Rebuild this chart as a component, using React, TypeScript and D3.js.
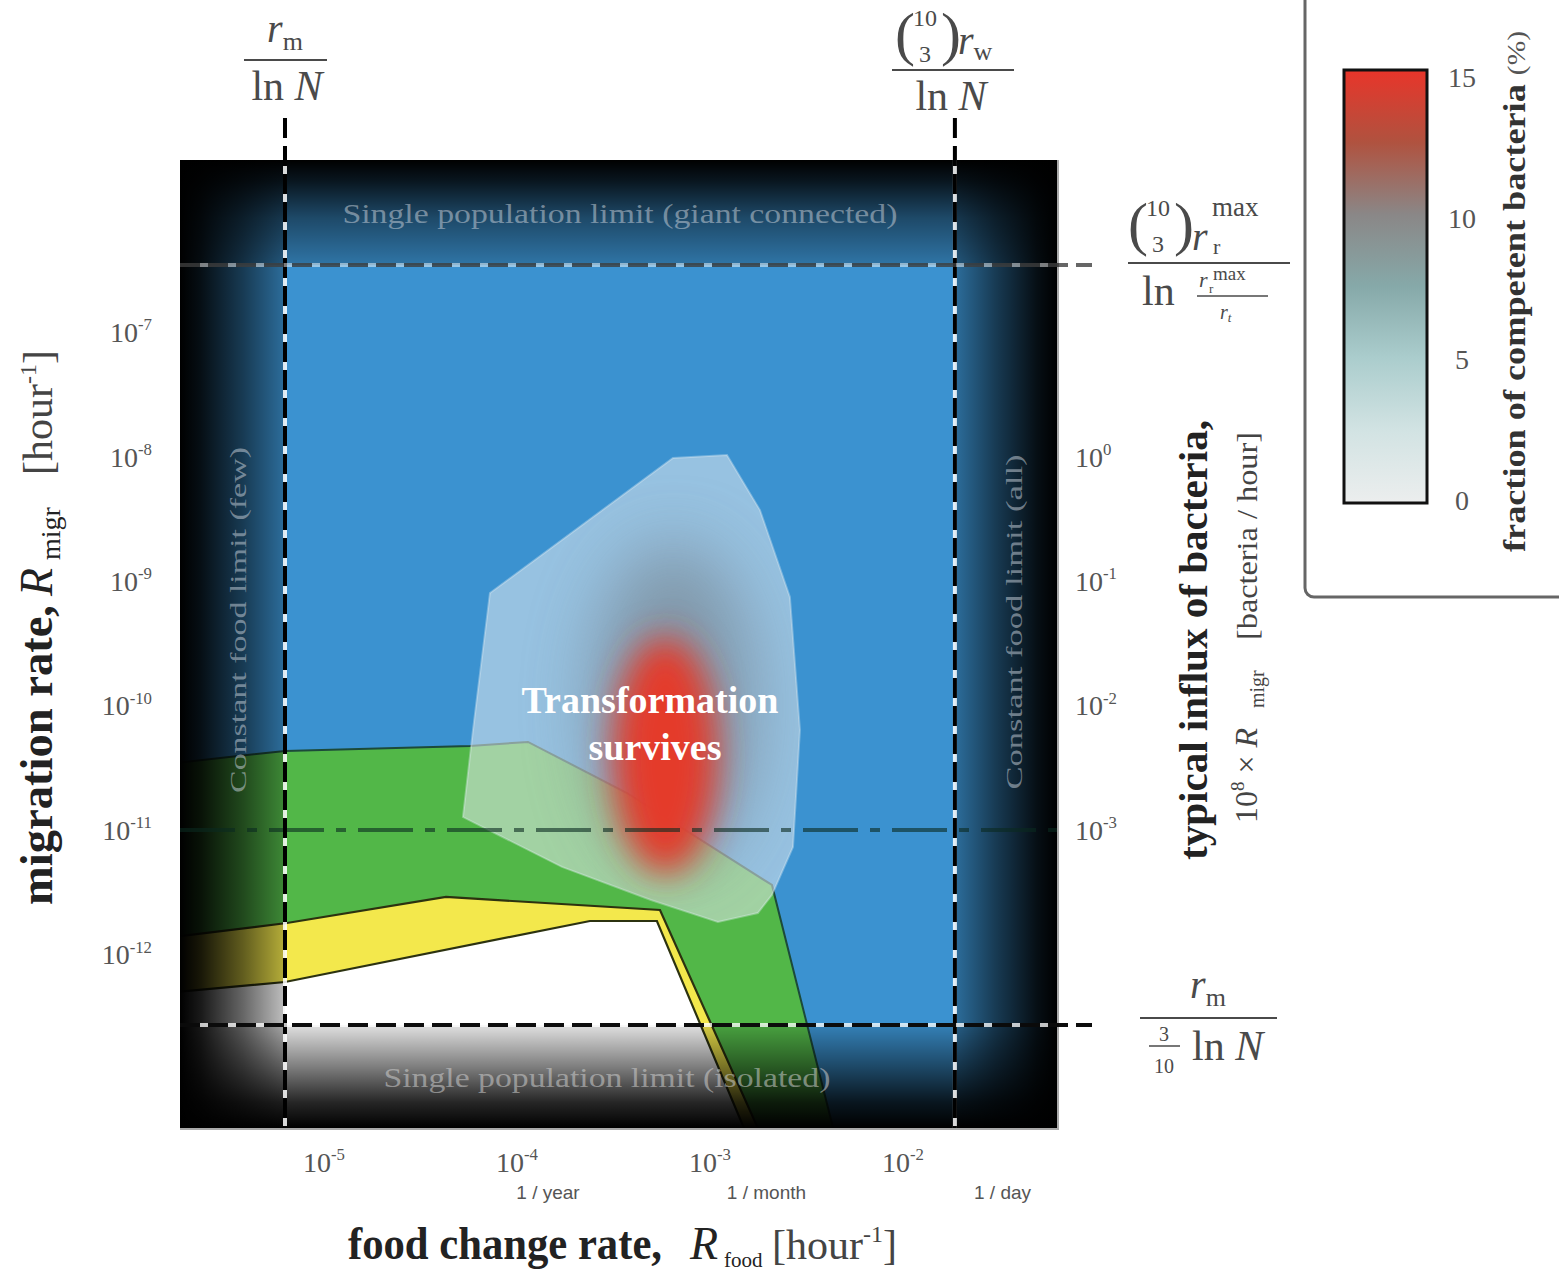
import React from 'react';
import * as d3 from 'd3';

// axis extents, log10 of the rates [hour^-1]
const foodRange = [-5.725, -1.181];
const migrRange = [-13.394, -5.618];
const influxShift = 8; // influx = 10^8 x R_migr

const foodTicks = [-5, -4, -3, -2];
const migrTicks = [-7, -8, -9, -10, -11, -12];
const influxTicks = [0, -1, -2, -3];
const periodNames = ['1 / year', '1 / month', '1 / day'];
const periodRates = [1 / 8760, 1 / 720, 1 / 24];

// regime boundaries as [log10 R_food, log10 R_migr]
const blueGreenEdge = [
  [-5.8, -10.47], [-5.181, -10.365], [-4.223, -10.325], [-3.922, -10.293],
  [-3.409, -10.703], [-2.658, -11.442], [-2.332, -13.45],
];
const greenYellowEdge = [
  [-5.8, -11.867], [-5.171, -11.747], [-4.347, -11.538], [-3.238, -11.643], [-2.715, -13.45],
];
const yellowWhiteEdge = [
  [-5.8, -12.309], [-5.181, -12.221], [-3.601, -11.731], [-3.254, -11.731], [-2.788, -13.45],
];

// where transformation survives
const survivalRegion = [
  [-3.171, -8.012], [-2.891, -7.988], [-2.72, -8.43], [-2.565, -9.129], [-2.513, -10.197],
  [-2.549, -11.137], [-2.658, -11.522], [-2.731, -11.667], [-2.938, -11.739], [-3.285, -11.562],
  [-3.746, -11.297], [-4.259, -10.896], [-4.207, -10.197], [-4.119, -9.096],
];
const competentHalo = { food: -3.17, migr: -10.0, spreadFood: 0.42, spreadMigr: 1.3 };
const competentPeak = { food: -3.21, migr: -10.4, spreadFood: 0.27, spreadMigr: 0.95 };

// limits (dashed) and the reference influx line
const rmLimit = -5.181;
const rwLimit = -1.71;
const giantLimit = -6.462;
const isolatedLimit = -12.566;
const influxRef = -11;

// colour bar, fraction of competent bacteria (%)
const competenceStops = [0, 2.5, 5, 7.5, 10, 12.5, 15];
const competenceColors = ['#eceeee', '#d2e3e3', '#abcdcd', '#86a9a9', '#8a8787', '#b0523f', '#e8352a'];
const competenceTicks = [0, 5, 10, 15];

const W = 1559;
const H = 1271;
const M = { left: 180, right: 1057, top: 160, bottom: 1128 };
const serif = "'Liberation Serif', 'DejaVu Serif', serif";
const narrow = "'Liberation Sans Narrow', 'Liberation Sans', Arial, sans-serif";
const ink = '#4a4a4a';

function Binom({ x, y }) {
  return (
    <g fill={ink} fontFamily={serif}>
      <text x={x} y={y} fontSize={60}>(</text>
      <text x={x + 30} y={y - 28} fontSize={24} textAnchor="middle">10</text>
      <text x={x + 30} y={y + 8} fontSize={24} textAnchor="middle">3</text>
      <text x={x + 46} y={y} fontSize={60}>)</text>
    </g>
  );
}

function Pow({ x, y, exp, size, anchor }) {
  return (
    <text x={x} y={y} fontSize={size} fill="#555" fontFamily={serif} textAnchor={anchor}>
      10<tspan fontSize={size * 0.6} dy={-size * 0.42}>{exp}</tspan>
    </text>
  );
}

const vignette = (id, x1, y1, x2, y2, stops) => (
  <linearGradient id={id} x1={x1} y1={y1} x2={x2} y2={y2}>
    {stops.map(([o, a], i) => <stop key={i} offset={o} stopColor="#000" stopOpacity={a} />)}
  </linearGradient>
);

export default function App() {
  const x = d3.scaleLog().domain(foodRange.map(e => 10 ** e)).range([M.left, M.right]);
  const y = d3.scaleLog().domain(migrRange.map(e => 10 ** e)).range([M.bottom, M.top]);
  const yInflux = d3.scaleLog().domain(migrRange.map(e => 10 ** (e + influxShift))).range([M.bottom, M.top]);
  const fx = e => x(10 ** e);
  const fy = e => y(10 ** e);
  const edge = d3.line().x(d => fx(d[0])).y(d => fy(d[1]));
  const corner = [foodRange[0] - 0.2, migrRange[0] - 0.2];
  const region = pts => edge([...pts, corner]) + 'Z';
  const blob = edge(survivalRegion) + 'Z';

  const xRm = fx(rmLimit), xRw = fx(rwLimit), yGiant = fy(giantLimit), yIso = fy(isolatedLimit);
  const blobs = [competentHalo, competentPeak].map(b => ({
    cx: fx(b.food), cy: fy(b.migr),
    rx: fx(b.food + b.spreadFood) - fx(b.food),
    ry: fy(b.migr - b.spreadMigr) - fy(b.migr),
  }));

  const cb = d3.scaleLinear().domain([0, 15]).range([500, 77]);
  const cbTop = 70, cbBottom = 503;
  const periodNudge = [24, 33, -16];

  return (
    <svg width={W} height={H} style={{ position: 'absolute', left: 0, top: 0, background: '#fff' }}>
      <defs>
        <clipPath id="plotClip"><rect x={M.left} y={M.top} width={M.right - M.left} height={M.bottom - M.top} /></clipPath>
        <clipPath id="blobClip"><path d={blob} /></clipPath>
        <filter id="blurWide" x="-60%" y="-60%" width="220%" height="220%"><feGaussianBlur stdDeviation="34" /></filter>
        <filter id="blurCore" x="-60%" y="-60%" width="220%" height="220%"><feGaussianBlur stdDeviation="17" /></filter>
        {vignette('vigTop', 0, 1, 0, 0, [[0, 0.2], [0.45, 0.5], [0.8, 0.85], [1, 1]])}
        {vignette('vigBottom', 0, 0, 0, 1, [[0, 0.12], [0.4, 0.5], [0.75, 0.85], [1, 1]])}
        {vignette('vigLeft', 1, 0, 0, 0, [[0, 0.25], [0.4, 0.6], [0.8, 0.9], [1, 1]])}
        {vignette('vigRight', 0, 0, 1, 0, [[0, 0.25], [0.4, 0.6], [0.8, 0.9], [1, 1]])}
        <linearGradient id="competence" x1="0" y1="1" x2="0" y2="0">
          {competenceStops.map((v, i) => <stop key={v} offset={v / 15} stopColor={competenceColors[i]} />)}
        </linearGradient>
      </defs>

      {/* regimes */}
      <g clipPath="url(#plotClip)">
        <rect x={M.left} y={M.top} width={M.right - M.left} height={M.bottom - M.top} fill="#3b92d0" />
        <path d={region(blueGreenEdge)} fill="#52b748" />
        <path d={region(greenYellowEdge)} fill="#f3e84c" />
        <path d={region(yellowWhiteEdge)} fill="#ffffff" />
        <path d={edge(blueGreenEdge)} fill="none" stroke="#1c4a3a" strokeWidth={2} />
        <path d={edge(greenYellowEdge)} fill="none" stroke="#2c3210" strokeWidth={2.2} />
        <path d={edge(yellowWhiteEdge)} fill="none" stroke="#2c3210" strokeWidth={2.2} />

        <path d={blob} fill="rgba(228,234,238,0.55)" stroke="rgba(230,240,245,0.35)" strokeWidth={2} />
        <g clipPath="url(#blobClip)">
          <ellipse cx={blobs[0].cx} cy={blobs[0].cy} rx={blobs[0].rx} ry={blobs[0].ry} fill="#737c84" opacity={0.6} filter="url(#blurWide)" />
          <ellipse cx={blobs[1].cx} cy={blobs[1].cy} rx={blobs[1].rx} ry={blobs[1].ry} fill="#e43a2a" filter="url(#blurCore)" />
        </g>

        <rect x={M.left} y={M.top} width={M.right - M.left} height={yGiant - M.top} fill="url(#vigTop)" />
        <rect x={M.left} y={yIso} width={M.right - M.left} height={M.bottom - yIso} fill="url(#vigBottom)" />
        <rect x={M.left} y={M.top} width={xRm - M.left} height={M.bottom - M.top} fill="url(#vigLeft)" />
        <rect x={xRw} y={M.top} width={M.right - xRw} height={M.bottom - M.top} fill="url(#vigRight)" />

        <line x1={M.left} x2={M.right} y1={fy(influxRef)} y2={fy(influxRef)} stroke="#0a2a20" strokeOpacity={0.6} strokeWidth={4} strokeDasharray="55 12 10 12" />

        <g fontFamily={serif} fill="#c3ccd6" fillOpacity={0.55}>
          <text x={(xRm + xRw) / 2} y={223} fontSize={28} textAnchor="middle" textLength={555} lengthAdjust="spacingAndGlyphs">Single population limit (giant connected)</text>
          <text x={(xRm + xRw) / 2 - 13} y={1087} fontSize={28} textAnchor="middle" textLength={447} lengthAdjust="spacingAndGlyphs" fill="#d0d0d0">Single population limit (isolated)</text>
          <text transform={`translate(${(M.left + xRm) / 2 + 14},620) rotate(-90)`} fontSize={24} textAnchor="middle" textLength={346} lengthAdjust="spacingAndGlyphs">Constant food limit (few)</text>
          <text transform={`translate(${(xRw + M.right) / 2 + 16},622) rotate(-90)`} fontSize={24} textAnchor="middle" textLength={335} lengthAdjust="spacingAndGlyphs">Constant food limit (all)</text>
        </g>
        <g fontFamily={serif} fill="#fff" fontWeight="bold" fontSize={38} textAnchor="middle">
          <text x={650} y={713}>Transformation</text>
          <text x={655} y={760}>survives</text>
        </g>
      </g>
      <line x1={M.right + 1} x2={M.right + 1} y1={M.top} y2={M.bottom + 2} stroke="#aaa" strokeWidth={2} />
      <line x1={M.left} x2={M.right + 2} y1={M.bottom + 1} y2={M.bottom + 1} stroke="#aaa" strokeWidth={2} />

      {/* limit lines */}
      {[xRm, xRw].map((lx, i) => (
        <g key={'v' + i}>
          <line x1={lx} x2={lx} y1={M.top} y2={M.bottom} stroke="#fff" strokeOpacity={0.85} strokeWidth={4} />
          <line x1={lx} x2={lx} y1={118} y2={M.bottom} stroke="#000" strokeWidth={4} strokeDasharray="20 8" />
        </g>
      ))}
      {[[yGiant, 0.6], [yIso, 0.95]].map(([ly, op], i) => (
        <g key={'h' + i}>
          <line x1={M.left} x2={M.right} y1={ly} y2={ly} stroke="#fff" strokeOpacity={op * 0.8} strokeWidth={4} />
          <line x1={M.left} x2={1092} y1={ly} y2={ly} stroke="#000" strokeOpacity={op} strokeWidth={4} strokeDasharray="20 8" />
        </g>
      ))}

      {/* ticks */}
      {foodTicks.map(e => <Pow key={e} x={fx(e) + 4} y={1172} exp={'-' + -e} size={28} anchor="middle" />)}
      {periodNames.map((n, i) => (
        <text key={n} x={x(periodRates[i]) + periodNudge[i]} y={1199} fontSize={19} fill="#555" fontFamily={narrow} textAnchor="middle">{n}</text>
      ))}
      {migrTicks.map(e => <Pow key={e} x={152} y={fy(e) + 10} exp={'-' + -e} size={28} anchor="end" />)}
      {influxTicks.map(e => <Pow key={e} x={1075} y={yInflux(10 ** e) + 10} exp={e === 0 ? '0' : '-' + -e} size={28} anchor="start" />)}

      {/* axis titles */}
      <g fontFamily={serif} fill="#222">
        <text x={348} y={1259} fontSize={46} fontWeight="bold" textLength={314} lengthAdjust="spacingAndGlyphs">food change rate,</text>
        <text x={690} y={1259} fontSize={46} fontStyle="italic">R</text>
        <text x={724} y={1267} fontSize={21}>food</text>
        <text x={772} y={1259} fontSize={42} fill="#444">[hour<tspan fontSize={24} dy={-17}>-1</tspan><tspan dy={17}>]</tspan></text>

        <g transform="translate(52,0) rotate(-90)">
          <text x={-905} y={0} fontSize={46} fontWeight="bold" textLength={300} lengthAdjust="spacingAndGlyphs">migration rate,</text>
          <text x={-596} y={0} fontSize={46} fontStyle="italic">R</text>
          <text x={-560} y={8} fontSize={28}>migr</text>
          <text x={-475} y={0} fontSize={42} fill="#444">[hour<tspan fontSize={24} dy={-16}>-1</tspan><tspan dy={16}>]</tspan></text>
        </g>

        <g transform="translate(1207,0) rotate(-90)">
          <text x={-860} y={0} fontSize={40} fontWeight="bold" textLength={440} lengthAdjust="spacingAndGlyphs">typical influx of bacteria,</text>
        </g>
        <g transform="translate(1257,0) rotate(-90)" fill="#444">
          <text x={-823} y={0} fontSize={32}>10<tspan fontSize={19} dy={-13}>8</tspan><tspan dy={13}> × </tspan><tspan fontStyle="italic">R</tspan></text>
          <text x={-708} y={7} fontSize={20}>migr</text>
          <text x={-640} y={0} fontSize={30} textLength={208} lengthAdjust="spacingAndGlyphs">[bacteria / hour]</text>
        </g>
      </g>

      {/* formula labels of the limit lines */}
      <g fill={ink} fontFamily={serif}>
        <text x={xRm} y={42} fontSize={40} textAnchor="middle"><tspan fontStyle="italic">r</tspan><tspan fontSize={26} dy={8}>m</tspan></text>
        <line x1={xRm - 41} x2={xRm + 42} y1={60} y2={60} stroke={ink} strokeWidth={2.2} />
        <text x={xRm + 2} y={100} fontSize={42} textAnchor="middle">ln <tspan fontStyle="italic">N</tspan></text>

        <Binom x={895} y={54} />
        <text x={958} y={54} fontSize={40}><tspan fontStyle="italic">r</tspan><tspan fontSize={26} dy={6}>w</tspan></text>
        <line x1={892} x2={1014} y1={70} y2={70} stroke={ink} strokeWidth={2.2} />
        <text x={951} y={110} fontSize={42} textAnchor="middle">ln <tspan fontStyle="italic">N</tspan></text>

        <Binom x={1128} y={244} />
        <text x={1192} y={250} fontSize={40} fontStyle="italic">r</text>
        <text x={1212} y={216} fontSize={27}>max</text>
        <text x={1213} y={254} fontSize={22}>r</text>
        <line x1={1128} x2={1290} y1={263} y2={263} stroke={ink} strokeWidth={2.2} />
        <text x={1142} y={305} fontSize={42}>ln</text>
        <text x={1199} y={287} fontSize={22} fontStyle="italic">r</text>
        <text x={1213} y={280} fontSize={19}>max</text>
        <text x={1209} y={293} fontSize={13}>r</text>
        <line x1={1197} x2={1268} y1={296} y2={296} stroke={ink} strokeWidth={1.5} />
        <text x={1220} y={319} fontSize={20} fontStyle="italic">r<tspan fontSize={13} dy={3}>t</tspan></text>

        <text x={1208} y={998} fontSize={40} textAnchor="middle"><tspan fontStyle="italic">r</tspan><tspan fontSize={26} dy={8}>m</tspan></text>
        <line x1={1140} x2={1277} y1={1018} y2={1018} stroke={ink} strokeWidth={2.2} />
        <text x={1164} y={1041} fontSize={20} textAnchor="middle">3</text>
        <line x1={1149} x2={1180} y1={1046} y2={1046} stroke={ink} strokeWidth={1.5} />
        <text x={1164} y={1073} fontSize={20} textAnchor="middle">10</text>
        <text x={1192} y={1060} fontSize={42}>ln <tspan fontStyle="italic">N</tspan></text>
      </g>

      {/* colour bar */}
      <rect x={1305} y={-20} width={280} height={617} rx={9} fill="#fff" stroke="#666" strokeWidth={3} />
      <rect x={1344} y={cbTop} width={83} height={cbBottom - cbTop} fill="url(#competence)" stroke="#111" strokeWidth={3} />
      {competenceTicks.map(t => (
        <text key={t} x={1462} y={cb(t) + 10} fontSize={28} fill="#555" fontFamily={serif} textAnchor="middle">{t}</text>
      ))}
      <text transform="translate(1525,552) rotate(-90)" fontFamily={serif} fill="#333" fontSize={32} textLength={521} lengthAdjust="spacingAndGlyphs">
        <tspan fontWeight="bold">fraction of competent bacteria </tspan>
        <tspan fontSize={26} fill="#555">(%)</tspan>
      </text>
    </svg>
  );
}
